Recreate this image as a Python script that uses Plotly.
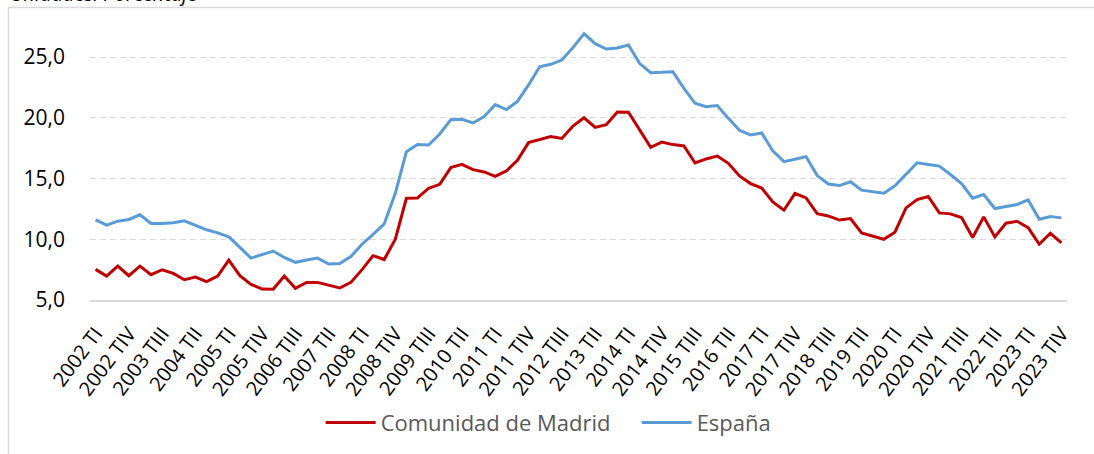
import plotly.graph_objects as go

years = list(range(2002, 2024))
quarters = ["TI", "TII", "TIII", "TIV"]
categories = [f"{y} {q}" for y in years for q in quarters]

madrid = [7.52, 6.97, 7.79, 7.0, 7.79, 7.08, 7.49, 7.19, 6.67, 6.89, 6.51, 6.97,
          8.29, 7.0, 6.29, 5.9, 5.88, 6.97, 5.96, 6.45, 6.45, 6.23, 5.99, 6.45,
          7.5, 8.65, 8.33, 10.0, 13.37, 13.4, 14.2, 14.52, 15.9, 16.17, 15.73, 15.54,
          15.18, 15.62, 16.5, 17.95, 18.17, 18.45, 18.3, 19.32, 20.0, 19.21, 19.43, 20.47,
          20.45, 18.99, 17.57, 18.0, 17.79, 17.68, 16.28, 16.61, 16.85, 16.25, 15.21, 14.58,
          14.22, 13.07, 12.39, 13.78, 13.4, 12.11, 11.92, 11.58, 11.70, 10.52, 10.27, 10.0,
          10.58, 12.58, 13.27, 13.52, 12.17, 12.09, 11.79, 10.14, 11.84, 10.19, 11.32, 11.48,
          10.96, 9.59, 10.49, 9.70]

espana = [11.6, 11.16, 11.49, 11.63, 12.01, 11.30, 11.30, 11.36, 11.52, 11.14, 10.78, 10.53,
          10.2, 9.33, 8.45, 8.73, 9.03, 8.5, 8.1, 8.29, 8.45, 7.96, 8.0, 8.57,
          9.59, 10.41, 11.26, 13.78, 17.21, 17.79, 17.76, 18.66, 19.84, 19.87, 19.57, 20.09,
          21.08, 20.67, 21.35, 22.7, 24.2, 24.4, 24.75, 25.77, 26.92, 26.1, 25.66, 25.74,
          25.99, 24.48, 23.71, 23.74, 23.79, 22.42, 21.19, 20.91, 21.0, 19.95, 18.97, 18.58,
          18.75, 17.27, 16.39, 16.58, 16.8, 15.24, 14.55, 14.42, 14.73, 14.04, 13.93, 13.79,
          14.40, 15.36, 16.29, 16.15, 16.02, 15.33, 14.59, 13.38, 13.68, 12.53, 12.69, 12.86,
          13.24, 11.65, 11.87, 11.76]

tick_labels = categories[::3]
y_ticks = [5, 10, 15, 20, 25]
y_tick_text = ["5,0", "10,0", "15,0", "20,0", "25,0"]

FONT = "Open Sans, Lato, sans-serif"
W, H = 1094, 454
ML, MR, MT, MB = 90, 27, 25, 154
PW, PH = W - ML - MR, H - MT - MB

def px_x(p):
    return (p - ML) / PW

def px_y(p):
    return (H - MB - p) / PH

fig = go.Figure()
fig.add_trace(go.Scatter(x=categories, y=madrid, mode="lines", name="Comunidad de Madrid",
                         line=dict(color="#C00000", width=3), legendwidth=251))
fig.add_trace(go.Scatter(x=categories, y=espana, mode="lines", name="España",
                         line=dict(color="#5B9BD5", width=3)))

fig.update_layout(
    width=W, height=H,
    margin=dict(l=ML, r=MR, t=MT, b=MB, autoexpand=False),
    paper_bgcolor="white", plot_bgcolor="white",
    font=dict(family=FONT, color="#000000"),
    showlegend=True,
    legend=dict(orientation="h", xref="container", yref="container",
                x=0.5015, xanchor="center", y=1 - 422.7 / H, yanchor="middle",
                font=dict(size=22, color="#595959", family=FONT),
                itemwidth=50, tracegroupgap=0),
    xaxis=dict(type="category", range=[-0.5, len(categories) - 0.5], automargin=False,
               tickmode="array", tickvals=tick_labels, ticktext=tick_labels,
               tickangle=-53, tickfont=dict(size=20, color="#000000", family=FONT),
               showgrid=False, showline=True, linecolor="#d9d9d9", linewidth=2,
               ticks="", ticklabelstandoff=12),
    yaxis=dict(range=[5, 5 + PH / 12.15], automargin=False, tickmode="array", tickvals=y_ticks,
               ticktext=y_tick_text, tickfont=dict(size=21, color="#000000", family=FONT),
               showgrid=True, gridcolor="#d9d9d9", gridwidth=1, griddash="6px,4px",
               zeroline=False, showline=False, ticks="", ticklabelstandoff=24),
    shapes=[
        dict(type="line", xref="paper", yref="paper", x0=px_x(8.5), x1=px_x(1110),
             y0=px_y(7.5), y1=px_y(7.5), line=dict(color="#d9d9d9", width=1.5), layer="below"),
        dict(type="line", xref="paper", yref="paper", x0=px_x(8.5), x1=px_x(8.5),
             y0=px_y(7.5), y1=px_y(470), line=dict(color="#d9d9d9", width=1.5), layer="below"),
    ],
    annotations=[
        dict(text="<i>Unidades: Porcentaje</i>", xref="paper", yref="paper",
             x=px_x(8), y=px_y(9), xanchor="left", yanchor="bottom", showarrow=False,
             font=dict(size=20, color="#000000", family=FONT)),
    ],
)

fig.write_html("out.html", config={"displayModeBar": False},
               post_script="document.body.style.margin='0';")
